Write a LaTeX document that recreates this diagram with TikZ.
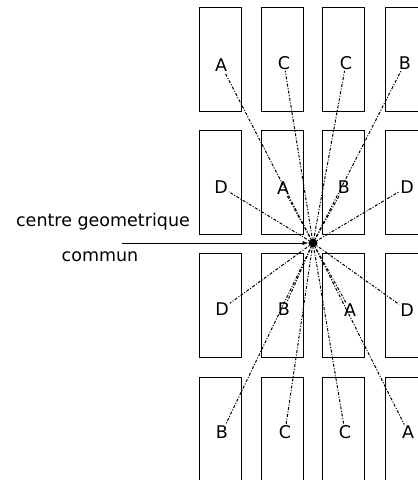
\documentclass[tikz,border=0pt]{standalone}
\usepackage{fontspec}
\setmainfont{DejaVu Sans}
\usepackage{tikz}
\usetikzlibrary{arrows, calc}

\begin{document}
\begin{tikzpicture}[
    x=1pt, y=-1pt,                    % <── pixel-like units, y down
    every node/.style={font=\fontsize{17.5}{20}\selectfont},
    box_node/.style={draw, line width=1pt, minimum width=42pt, minimum height=104pt, inner sep=0pt},
    lbl_node/.style={inner sep=1pt},
    ray/.style={line width=1pt, dash pattern=on 1pt off 1.6pt on 3pt off 1.6pt},
    ]
    \useasboundingbox (0,0) rectangle (418,480);

    % Rectangles, row by row
    \node[box_node] (r11) at (220,59) {};
    \node[box_node] (r12) at (282.5,59) {};
    \node[box_node] (r13) at (343,59) {};
    \node[box_node] (r14) at (406,59) {};
    \node[box_node] (r21) at (220,182) {};
    \node[box_node] (r22) at (282.5,182) {};
    \node[box_node] (r23) at (343,182) {};
    \node[box_node] (r24) at (406,182) {};
    \node[box_node] (r31) at (220,305) {};
    \node[box_node] (r32) at (282.5,305) {};
    \node[box_node] (r33) at (343,305) {};
    \node[box_node] (r34) at (406,305) {};
    \node[box_node] (r41) at (220,429) {};
    \node[box_node] (r42) at (282.5,429) {};
    \node[box_node] (r43) at (343,429) {};
    \node[box_node] (r44) at (406,429) {};

    % Letters
    \node[lbl_node] (a11) at (221,65) {A};
    \node[lbl_node] (a12) at (284,63) {C};
    \node[lbl_node] (a13) at (346,63) {C};
    \node[lbl_node] (a14) at (405,63) {B};
    \node[lbl_node] (a21) at (221,187) {D};
    \node[lbl_node] (a22) at (283,188) {A};
    \node[lbl_node] (a23) at (344,187) {B};
    \node[lbl_node] (a24) at (407,187) {D};
    \node[lbl_node] (a31) at (222,309) {D};
    \node[lbl_node] (a32) at (284,309) {B};
    \node[lbl_node] (a33) at (350,310) {A};
    \node[lbl_node] (a34) at (407,310) {D};
    \node[lbl_node] (a41) at (222,432) {B};
    \node[lbl_node] (a42) at (285,432) {C};
    \node[lbl_node] (a43) at (345,432) {C};
    \node[lbl_node] (a44) at (408,432) {A};

    % Common centre
    \node[circle, fill, inner sep=0pt, minimum size=9pt] (c) at (313,243) {};
    \node (t1) at (103,222) {centre geometrique};
    \node (t2) at (100,257) {commun};
    \coordinate (s) at (122,243);
    \draw[-latex, line width=1pt] (s) -- (c);

    % Rays to the letters
    \foreach \n in {a11,a12,a13,a14,a21,a22,a23,a24,a31,a32,a33,a34,a41,a42,a43,a44}
        \draw[ray] (c) -- (\n);
\end{tikzpicture}
\end{document}
